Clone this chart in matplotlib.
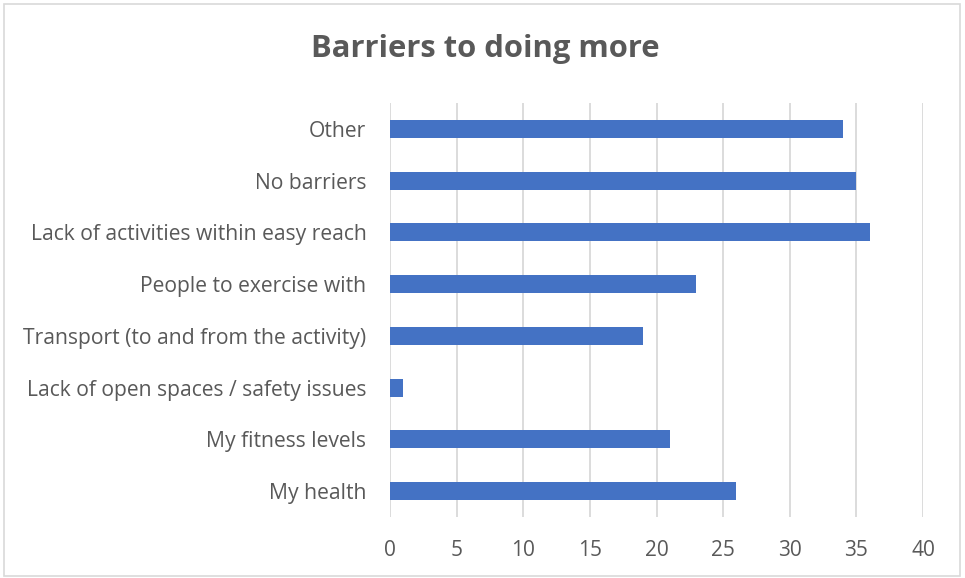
import matplotlib
matplotlib.use("Agg")
import matplotlib.pyplot as plt
from matplotlib.patches import Rectangle

categories = [
    "My health",
    "My fitness levels",
    "Lack of open spaces / safety issues",
    "Transport (to and from the activity)",
    "People to exercise with",
    "Lack of activities within easy reach",
    "No barriers",
    "Other",
]
values = [26, 21, 1, 19, 23, 36, 35, 34]
xticks = [0, 5, 10, 15, 20, 25, 30, 35, 40]

W, H = 965, 578
fig = plt.figure(figsize=(W / 100, H / 100), dpi=100)
fig.patch.set_facecolor("white")

ax = fig.add_axes([390 / W, 1 - 517 / H, (923 - 390) / W, (517 - 103) / H])
text_color = "#595959"
font = "Open Sans"

ax.barh(range(len(categories)), values, height=0.35, color="#4472C4", zorder=3)
ax.set_xlim(0, 40)
ax.set_ylim(-0.5, len(categories) - 0.5)
ax.set_xticks(xticks)
ax.set_xticklabels([str(t) for t in xticks], fontsize=15, color=text_color, family=font)
ax.set_yticks(range(len(categories)))
ax.set_yticklabels(categories, fontsize=15.2, color=text_color, family=font)
ax.tick_params(axis="both", length=0)
ax.tick_params(axis="x", pad=16.5)
ax.tick_params(axis="y", pad=17)
ax.grid(axis="x", color="#D9D9D9", linewidth=1.3, zorder=0)
for s in ax.spines.values():
    s.set_visible(False)

fig.text(485 / W, 1 - 49 / H, "Barriers to doing more", ha="center", va="center",
         fontsize=22.3, fontweight="bold", color=text_color, family=font)

fig.patches.append(Rectangle((4 / W, 2 / H), (960 - 4) / W, (574 - 2) / H,
                             transform=fig.transFigure, fill=False,
                             edgecolor="#D9D9D9", linewidth=1.2))

fig.savefig("out.png", dpi=100)
